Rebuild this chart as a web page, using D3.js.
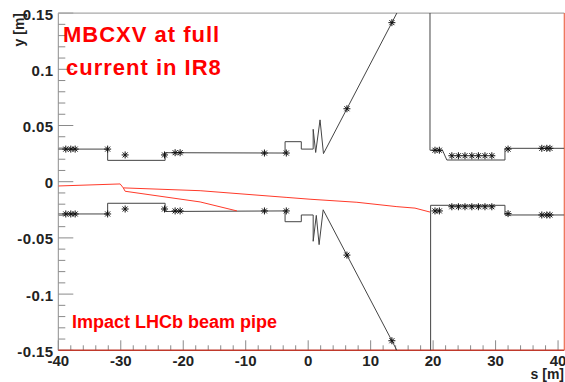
<!DOCTYPE html>
<html>
<head>
<meta charset="utf-8">
<script src="https://cdn.jsdelivr.net/npm/d3@7"></script>
<style>
  body { margin: 0; background: #fff; }
  svg { display: block; font-family: "Liberation Sans", Arial, Helvetica, sans-serif; }
</style>
</head>
<body>
<svg id="chart" width="565" height="382"></svg>
<script>
// Beam-pipe aperture and trajectory envelope around IR8, s [m] vs y [m]
const upperAperture = [[-40,0.029],[-32.1,0.029],[-32.1,0.019],[-22.9,0.019],[-22.9,0.0258],[-3.7,0.0255],
  [-3.7,0.0356],[-1.1,0.0356],[-1.1,0.029],[0.8,0.029],[0.8,0.0466],[1.2,0.026],[1.9,0.055],[2.45,0.025],
  [6.2,0.0649],[13.4,0.1415],[19.3,0.205],[19.5,0.205],[19.5,0.028],[21.5,0.028],[22.2,0.0193],
  [31.5,0.0193],[31.5,0.0297],[41,0.0297]];
const lowerAperture = [[-40,-0.0287],[-32.1,-0.0287],[-32.1,-0.0192],[-22.9,-0.0192],[-22.9,-0.0265],[-3.7,-0.026],
  [-3.7,-0.0356],[-1.1,-0.0356],[-1.1,-0.0296],[0.8,-0.0296],[0.8,-0.053],[1.3,-0.03],[1.75,-0.056],[2.4,-0.025],
  [6.2,-0.0653],[13.4,-0.1415],[19.3,-0.205],[19.6,-0.205],[19.6,-0.021],[31.5,-0.021],[31.5,-0.0296],[41,-0.0296]];

// Element positions along the envelope
const upperMarkers = [[-38.8,0.029],[-38.0,0.029],[-37.3,0.029],[-32.1,0.029],[-29.3,0.0238],[-23.0,0.0238],
  [-21.3,0.0258],[-20.5,0.0258],[-7.0,0.0255],[-3.5,0.0255],[6.2,0.0649],[13.4,0.1415],[20.3,0.028],[21.0,0.028],
  [23.0,0.0231],[24.05,0.0231],[25.1,0.0231],[26.2,0.0231],[27.25,0.0231],[28.3,0.0231],[29.4,0.0231],
  [32.0,0.029],[37.4,0.0297],[38.2,0.0297],[38.7,0.0297]];
const lowerMarkers = [[-38.8,-0.0287],[-38.0,-0.0287],[-37.3,-0.0287],[-32.1,-0.0287],[-29.3,-0.0243],[-23.0,-0.0243],
  [-21.3,-0.026],[-20.5,-0.026],[-7.0,-0.026],[-3.5,-0.026],[6.2,-0.0653],[13.4,-0.1415],[20.3,-0.026],[21.0,-0.026],
  [23.0,-0.0223],[24.05,-0.0223],[25.1,-0.0223],[26.2,-0.0223],[27.25,-0.0223],[28.3,-0.0223],[29.4,-0.0223],
  [32.0,-0.0284],[37.4,-0.0296],[38.2,-0.0296],[38.7,-0.0296]];

// Beam orbits (red)
const orbitMain = [[-40,-0.0038],[-30.1,-0.002],[-29.6,-0.0055],[-17.3,-0.008],[-3.4,-0.014],[0.3,-0.0156],
  [7.8,-0.0183],[14.2,-0.0222],[17.1,-0.0235],[19.5,-0.027]];
const orbitImpact = [[-29.6,-0.0055],[-29.3,-0.0085],[-17.3,-0.018],[-11.4,-0.026]];

const xTicks = [-40,-30,-20,-10,0,10,20,30,40];
const yTicks = [-0.15,-0.1,-0.05,0,0.05,0.1,0.15];
const yTickLabels = ["-0.15","-0.1","-0.05","0","0.05","0.1","0.15"];

const svg = d3.select("#chart");
const L = 58.3, R = 564.3, T = 13.1, B = 350.3;
const x = d3.scaleLinear().domain([-40, 41]).range([L, R]);
const y = d3.scaleLinear().domain([-0.15, 0.15]).range([B, T]);

svg.append("defs").append("clipPath").attr("id", "plotClip")
  .append("rect").attr("x", L).attr("y", T).attr("width", R - L).attr("height", B - T);

// minor / major ticks on the left axis (pointing inward)
const yMinor = d3.range(-15, 16).map(i => i / 100);
svg.append("g").selectAll("line").data(yMinor).join("line")
  .attr("x1", L).attr("x2", d => (Math.round(d * 100) % 5 === 0) ? L + 15 : L + 7)
  .attr("y1", d => y(d)).attr("y2", d => y(d))
  .attr("stroke", "#8a8a8a").attr("stroke-width", 1);

// minor / major ticks on the bottom axis
const xMinor = d3.range(-40, 41, 2);
svg.append("g").selectAll("line").data(xMinor).join("line")
  .attr("x1", d => x(d)).attr("x2", d => x(d))
  .attr("y1", B).attr("y2", d => (d % 10 === 0) ? B - 10 : B - 5)
  .attr("stroke", "#8a8a8a").attr("stroke-width", 1);

// frame
svg.append("line").attr("x1", L).attr("x2", L).attr("y1", T).attr("y2", B).attr("stroke", "#8c8c8c");
svg.append("line").attr("x1", L).attr("x2", R).attr("y1", T).attr("y2", T).attr("stroke", "#a8a8a8").attr("stroke-width", 1.2);
svg.append("line").attr("x1", L).attr("x2", R).attr("y1", B).attr("y2", B).attr("stroke", "#c0392b").attr("stroke-width", 1.6);
svg.append("line").attr("x1", R).attr("x2", R).attr("y1", T).attr("y2", B).attr("stroke", "#ee6a4c").attr("stroke-width", 1.2);

const line = d3.line().x(d => x(d[0])).y(d => y(d[1]));
const plot = svg.append("g").attr("clip-path", "url(#plotClip)");

[upperAperture, lowerAperture].forEach(pts => {
  plot.append("path").attr("d", line(pts)).attr("fill", "none")
    .attr("stroke", "#444").attr("stroke-width", 1);
});
[orbitMain, orbitImpact].forEach(pts => {
  plot.append("path").attr("d", line(pts)).attr("fill", "none")
    .attr("stroke", "#ff3a2a").attr("stroke-width", 1);
});

// asterisk markers
const star = "M-3.5,0H3.5M0,-3.5V3.5M-2.5,-2.5L2.5,2.5M-2.5,2.5L2.5,-2.5";
plot.append("g").selectAll("path").data(upperMarkers.concat(lowerMarkers)).join("path")
  .attr("transform", d => `translate(${x(d[0])},${y(d[1])})`)
  .attr("d", star).attr("fill", "none").attr("stroke", "#111").attr("stroke-width", 1);

// tick labels
svg.append("g").selectAll("text").data(xTicks).join("text")
  .attr("x", d => x(d)).attr("y", 365.5).attr("text-anchor", "middle")
  .attr("font-size", 15).attr("font-weight", "bold").attr("fill", "#222")
  .text(d => d);
svg.append("g").selectAll("text").data(yTicks).join("text")
  .attr("x", 53.5).attr("y", d => y(d) + 6.5).attr("text-anchor", "end")
  .attr("font-size", 15).attr("font-weight", "bold").attr("fill", "#222")
  .attr("letter-spacing", 0.4)
  .text((d, i) => yTickLabels[i]);

// axis titles
svg.append("text").attr("transform", "translate(24,13) rotate(-90)").attr("text-anchor", "end")
  .attr("font-size", 14).attr("font-weight", "bold").attr("fill", "#222").text("y [m]");
svg.append("text").attr("x", 564).attr("y", 379).attr("text-anchor", "end")
  .attr("font-size", 14).attr("font-weight", "bold").attr("fill", "#222").text("s [m]");

// annotations
svg.append("text").attr("x", 63).attr("y", 42).attr("font-size", 22).attr("font-weight", "bold")
  .attr("letter-spacing", 1).attr("fill", "#ff0000").text("MBCXV at full");
svg.append("text").attr("x", 66).attr("y", 75).attr("font-size", 22).attr("font-weight", "bold")
  .attr("letter-spacing", 1).attr("fill", "#ff0000").text("current in IR8");
svg.append("text").attr("x", 72).attr("y", 328).attr("font-size", 18).attr("font-weight", "bold")
  .attr("fill", "#ff0000").text("Impact LHCb beam pipe");
</script>
</body>
</html>
